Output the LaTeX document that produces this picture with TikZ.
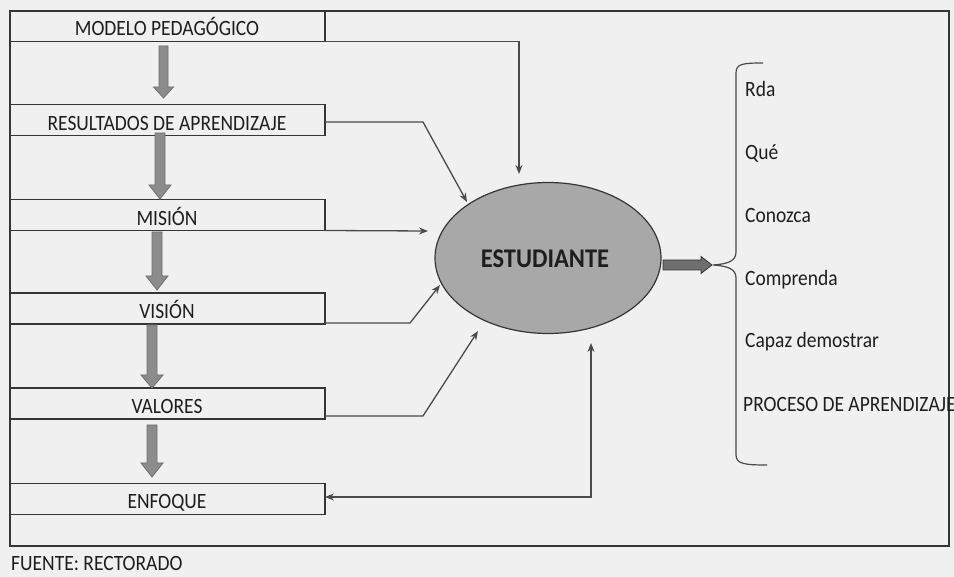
\documentclass[tikz,border=0pt]{standalone}
\usepackage{fontspec}
\setmainfont{Carlito}
\usetikzlibrary{arrows.meta,calc,shapes.geometric}
\definecolor{bg}{HTML}{F0F0F0}
\definecolor{ln}{HTML}{353535}
\definecolor{cn}{HTML}{4A4A4A}
\definecolor{fat}{HTML}{8C8C8C}
\definecolor{fatd}{HTML}{6E6E6E}
\definecolor{ell}{HTML}{A8A8A8}
\definecolor{tx}{HTML}{1E1E1E}
\begin{document}
\begin{tikzpicture}[x=1pt,y=-1pt,
  box/.style={draw=ln, line width=1.5pt, minimum width=315pt, minimum height=31pt, inner sep=0pt, outer sep=0pt},
  lbl/.style={font=\fontsize{19.5}{22}\selectfont, text=tx, inner sep=0pt, anchor=base, transform shape, yscale=1.12},
  rl/.style={font=\fontsize{19.5}{22}\selectfont, text=tx, inner sep=0pt, anchor=base west, transform shape, yscale=1.12},
  conn/.style={draw=cn, line width=1.3pt, -{Stealth[length=9pt,width=7pt]}},
  fatarr/.style={fill=fat, draw=fatd, line width=0.8pt},
]
\fill[bg] (0,0) rectangle (954,577);
\useasboundingbox (0,0) rectangle (954,577);
% frame
\draw[ln, line width=1.5pt] (10,11) rectangle (949,546);
% boxes
\node[box] (modelo) at (167.5,26) {};
\node[box] (resultados) at (167.5,120) {};
\node[box] (mision) at (167.5,215) {};
\node[box] (vision) at (167.5,308.5) {};
\node[box] (valores) at (167.5,403.5) {};
\node[box] (enfoque) at (167.5,499) {};
\node[lbl] (tmodelo) at (167,36) {MODELO PEDAGÓGICO};
\node[lbl] (tres) at (167,131) {RESULTADOS DE APRENDIZAJE};
\node[lbl] (tmis) at (167,226) {MISIÓN};
\node[lbl] (tvis) at (167,319) {VISIÓN};
\node[lbl] (tval) at (167,414) {VALORES};
\node[lbl] (tenf) at (167,508) {ENFOQUE};
% fat down arrows
\filldraw[fatarr] (159,46) -- (168,46) -- (168,87) -- (173.5,87) -- (163.5,98) -- (153.5,87) -- (159,87) -- cycle;
\filldraw[fatarr] (155,133) -- (165,133) -- (165,185) -- (171,185) -- (160,199) -- (149,185) -- (155,185) -- cycle;
\filldraw[fatarr] (152,232) -- (162,232) -- (162,276) -- (168,276) -- (157,290) -- (146,276) -- (152,276) -- cycle;
\filldraw[fatarr] (147,325) -- (157,325) -- (157,375) -- (163,375) -- (152,388) -- (141,375) -- (147,375) -- cycle;
\filldraw[fatarr] (147,425) -- (157,425) -- (157,463) -- (163,463) -- (152,477) -- (141,463) -- (147,463) -- cycle;
% student ellipse
\node[ellipse, draw=ln, line width=1.2pt, fill=ell, minimum width=226pt, minimum height=151pt, inner sep=0pt] (est) at (548,258) {};
\node[font=\bfseries\fontsize{24.5}{28}\selectfont, text=tx, inner sep=0pt, anchor=base, transform shape, yscale=1.1] (test) at (545,268) {ESTUDIANTE};
% arrow tip coordinates
\coordinate (tM) at (519,174);
\coordinate (kR) at (423,122);
\coordinate (tR) at (467,202);
\coordinate (tMi) at (428,231);
\coordinate (kV) at (410,323);
\coordinate (tV) at (440,285);
\coordinate (kVa) at (423,416);
\coordinate (tVa) at (478,331);
\coordinate (tE) at (591,343);
% connectors
\draw[conn] (modelo.south east) -| (tM);
\draw[conn] ($(resultados.east)+(0,2)$) -- (kR) -- (tR);
\draw[conn] (mision.south east) -- (tMi);
\draw[conn] ($(vision.south east)+(0,-1)$) -- (kV) -- (tV);
\draw[conn] ($(valores.south east)+(0,-3)$) -- (kVa) -- (tVa);
\draw[conn, {Stealth[length=9pt,width=7pt]}-{Stealth[length=9pt,width=7pt]}] (tE) |- ($(enfoque.east)+(0,-2)$);
% output arrow
\filldraw[fill=fatd, draw=ln, line width=0.8pt] (663,260) -- (701,260) -- (701,256.5) -- (712,265) -- (701,273.5) -- (701,270) -- (663,270) -- cycle;
% brace
\draw[cn, line width=1.2pt] (763,63) .. controls (742,63) and (736,64) .. (736,73) -- (736,252) .. controls (736,261) and (728,264) .. (713,265) .. controls (728,266) and (736,269) .. (736,278) -- (736,455) .. controls (736,464) and (745,465) .. (767,465);
% outcome labels
\node[rl] (rda) at (745,97) {Rda};
\node[rl] (que) at (745,160) {Qué};
\node[rl] (con) at (745,223) {Conozca};
\node[rl] (com) at (745,286) {Comprenda};
\node[rl] (cap) at (745,348) {Capaz demostrar};
\node[rl] (pro) at (743,412) {PROCESO DE APRENDIZAJE};
% source
\node[font=\fontsize{19.5}{22}\selectfont, text=tx, inner sep=0pt, anchor=base west, transform shape, yscale=1.12] (fuente) at (11,570) {FUENTE: RECTORADO};
\end{tikzpicture}
\end{document}
